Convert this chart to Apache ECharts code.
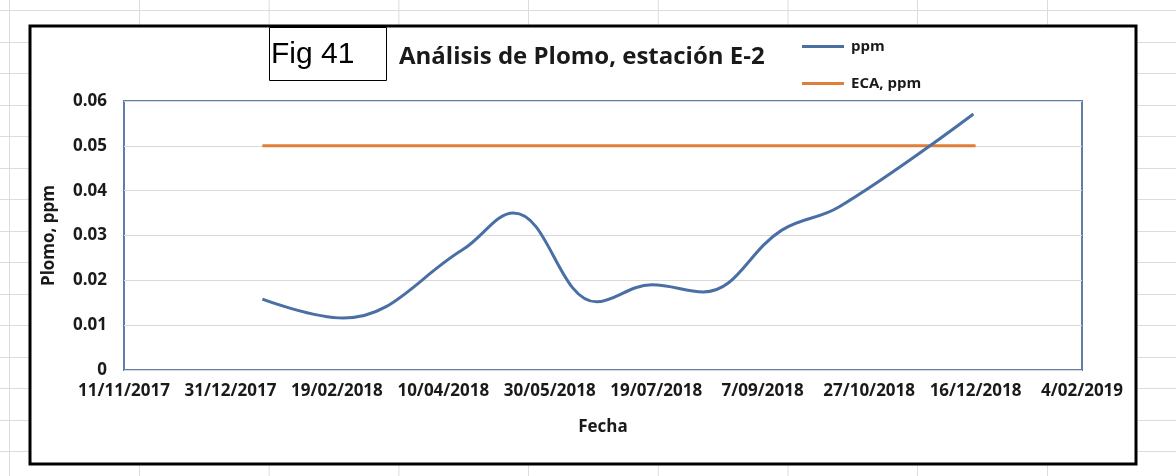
<!DOCTYPE html>
<html>
<head>
<meta charset="utf-8">
<script src="https://cdn.jsdelivr.net/npm/echarts@6/dist/echarts.min.js"></script>
<style>
  html, body { margin: 0; padding: 0; background: #fff; }
  #main { width: 1176px; height: 476px; }
</style>
</head>
<body>
<div id="main"></div>
<script>
  // datos
  var startDate = '2017-11-11';
  var ppmDates = ['2018-01-15', '2018-02-22', '2018-04-19', '2018-05-13', '2018-06-21',
                  '2018-07-17', '2018-08-10', '2018-09-16', '2018-10-13', '2018-12-15'];
  var ppmValues = [0.0158, 0.0116, 0.0268, 0.0350, 0.0152, 0.0190, 0.0174, 0.0312, 0.0364, 0.0571];
  var ecaDates = ['2018-01-15', '2018-12-16'];
  var ecaValues = [0.05, 0.05];
  var yTicks = [0, 0.01, 0.02, 0.03, 0.04, 0.05, 0.06];

  var DAY = 86400000;
  function toMs(s) {
    var p = s.split('-');
    return Date.UTC(+p[0], +p[1] - 1, +p[2]);
  }
  var t0 = toMs(startDate);
  function toDays(s) { return Math.round((toMs(s) - t0) / DAY); }
  function pad(n) { return n < 10 ? '0' + n : '' + n; }
  function fmtDate(d) {
    var dt = new Date(t0 + d * DAY);
    return dt.getUTCDate() + '/' + pad(dt.getUTCMonth() + 1) + '/' + dt.getUTCFullYear();
  }

  var ppmData = ppmDates.map(function (d, i) { return [toDays(d), ppmValues[i]]; });
  var ecaData = ecaDates.map(function (d, i) { return [toDays(d), ecaValues[i]]; });

  // fondo tipo hoja de calculo
  var sheet = [];
  var cols = [9, 139, 268.7, 398.4, 528, 657.8, 787.5, 917, 1047];
  cols.forEach(function (x) {
    sheet.push({ type: 'line', z: -20, silent: true,
      shape: { x1: x + 0.5, y1: 0, x2: x + 0.5, y2: 476 },
      style: { stroke: '#dcdcdc', lineWidth: 1 } });
  });
  for (var y = 10; y < 476; y += 31.5) {
    sheet.push({ type: 'line', z: -20, silent: true,
      shape: { x1: 0, y1: Math.round(y) + 0.5, x2: 1176, y2: Math.round(y) + 0.5 },
      style: { stroke: '#dcdcdc', lineWidth: 1 } });
  }

  var font = '"Open Sans", "DejaVu Sans", sans-serif';
  var myChart = echarts.init(document.getElementById('main'));
  myChart.setOption({
    backgroundColor: '#fff',
    animation: false,
    title: {
      text: 'Análisis de Plomo, estación E-2',
      left: 399,
      top: 45,
      padding: 0,
      textStyle: { fontFamily: font, fontWeight: 'bold', fontSize: 24, color: '#1a1a1a' }
    },
    legend: [
      {
        data: ['ppm'], left: 802, top: 39, padding: 0,
        icon: 'rect', itemWidth: 42, itemHeight: 3, itemGap: 7,
        textStyle: { fontFamily: font, fontWeight: 'bold', fontSize: 15, color: '#1a1a1a', padding: [0, 0, 0, 2] }
      },
      {
        data: ['ECA, ppm'], left: 802, top: 76, padding: 0,
        icon: 'rect', itemWidth: 42, itemHeight: 3, itemGap: 7,
        textStyle: { fontFamily: font, fontWeight: 'bold', fontSize: 15, color: '#1a1a1a', padding: [0, 0, 0, 2] }
      }
    ],
    grid: {
      left: 124, right: 94, top: 101, bottom: 106,
      outerBoundsMode: 'none',
      show: true, borderColor: '#5f7fa8', borderWidth: 2, backgroundColor: 'transparent'
    },
    xAxis: {
      type: 'value',
      min: 0, max: 450, interval: 50,
      name: 'Fecha',
      nameLocation: 'middle',
      nameGap: 49,
      nameTextStyle: { fontFamily: font, fontWeight: 'bold', fontSize: 17, color: '#1a1a1a' },
      axisLine: { show: false },
      axisTick: { show: false },
      splitLine: { show: false },
      axisLabel: {
        margin: 13,
        fontFamily: font, fontWeight: 'bold', fontSize: 17, color: '#1a1a1a',
        showMinLabel: true, showMaxLabel: true,
        formatter: function (v) { return fmtDate(v); }
      }
    },
    yAxis: {
      type: 'value',
      min: yTicks[0], max: yTicks[yTicks.length - 1], interval: 0.01,
      name: 'Plomo, ppm',
      nameLocation: 'middle',
      nameGap: 66,
      nameRotate: 90,
      nameTextStyle: { fontFamily: font, fontWeight: 'bold', fontSize: 17, color: '#1a1a1a' },
      axisLine: { show: false },
      axisTick: { show: false },
      splitLine: { lineStyle: { color: '#d9d9d9', width: 1 } },
      axisLabel: {
        margin: 17,
        fontFamily: font, fontWeight: 'bold', fontSize: 17, color: '#1a1a1a',
        formatter: function (v) { return v === 0 ? '0' : v.toFixed(2); }
      }
    },
    series: [
      {
        name: 'ppm',
        type: 'line',
        data: ppmData,
        smooth: 0.4,
        showSymbol: false,
        lineStyle: { color: '#4a6fa5', width: 3 },
        itemStyle: { color: '#4a6fa5' },
        z: 4
      },
      {
        name: 'ECA, ppm',
        type: 'line',
        data: ecaData,
        showSymbol: false,
        lineStyle: { color: '#e07d38', width: 3 },
        itemStyle: { color: '#e07d38' },
        z: 3
      }
    ],
    graphic: sheet.concat([
      {
        type: 'rect', z: -10, silent: true,
        shape: { x: 30, y: 26, width: 1106, height: 438 },
        style: { fill: '#fff', stroke: '#000', lineWidth: 3 }
      },
      {
        type: 'rect', z: 50, silent: true,
        shape: { x: 269.5, y: 27.5, width: 117, height: 53 },
        style: { fill: '#fff', stroke: '#000', lineWidth: 1 }
      },
      {
        type: 'text', z: 51, silent: true,
        x: 271, y: 55,
        style: {
          text: 'Fig 41',
          font: '30px "Liberation Sans", Arial, sans-serif',
          fill: '#000',
          verticalAlign: 'middle'
        }
      }
    ])
  });
</script>
</body>
</html>
